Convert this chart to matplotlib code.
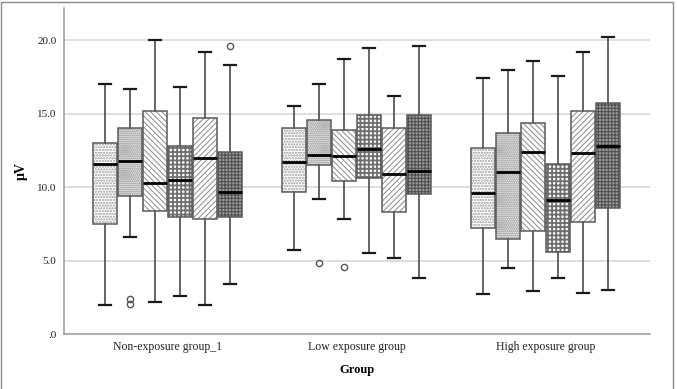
import matplotlib
matplotlib.use("Agg")
import matplotlib.pyplot as plt
from matplotlib.patches import PathPatch, Rectangle
from matplotlib.ticker import FuncFormatter
import numpy as np

groups = ["Non-exposure group_1", "Low exposure group", "High exposure group"]

# per group: six series (boxes), each with whislo, q1, med, q3, whishi
whislo = [[2.0, 6.6, 2.2, 2.6, 2.0, 3.4],
          [5.7, 9.2, 7.8, 5.5, 5.2, 3.8],
          [2.7, 4.5, 2.9, 3.8, 2.8, 3.0]]
q1 = [[7.5, 9.4, 8.4, 8.0, 7.8, 8.0],
      [9.7, 11.5, 10.4, 10.6, 8.3, 9.5],
      [7.2, 6.5, 7.0, 5.6, 7.6, 8.6]]
med = [[11.6, 11.8, 10.3, 10.5, 12.0, 9.7],
       [11.7, 12.2, 12.1, 12.6, 10.9, 11.1],
       [9.6, 11.0, 12.4, 9.1, 12.3, 12.8]]
q3 = [[13.0, 14.0, 15.2, 12.8, 14.7, 12.4],
      [14.0, 14.6, 13.9, 14.9, 14.0, 14.9],
      [12.7, 13.7, 14.4, 11.6, 15.2, 15.7]]
whishi = [[17.0, 16.7, 20.0, 16.8, 19.2, 18.3],
          [15.5, 17.0, 18.7, 19.5, 16.2, 19.6],
          [17.4, 18.0, 18.6, 17.6, 19.2, 20.2]]
fliers = [[[], [2.4, 2.05], [], [], [], [19.6]],
          [[], [4.85], [4.55], [], [], []],
          [[], [], [], [], [], []]]

yticks = [0, 5, 10, 15, 20]

# styles for the six series: (facecolor, hatch, hatchcolor, hatch linewidth)
styles = [("white", "oooooo", "#bdbdbd", 0.6),
          ("#eeeeee", "oooooooo", "#b4b4b4", 0.6),
          ("white", "\\\\\\\\\\\\", "#8a8a8a", 0.7),
          ("white", "++++", "#6e6e6e", 1.3),
          ("white", "//////", "#8a8a8a", 0.7),
          ("#9c9c9c", "+++++", "#4e4e4e", 0.8)]

plt.rcParams["font.family"] = ["Liberation Serif", "DejaVu Serif"]
plt.rcParams["hatch.linewidth"] = 0.7

fig = plt.figure(figsize=(6.77, 3.89), dpi=100)
ax = fig.add_axes([63.5 / 677, 1 - 334 / 389, (649.5 - 63.5) / 677, (334 - 8) / 389])

n = 6
w = 0.132
for g in range(len(groups)):
    stats = []
    pos = []
    for i in range(n):
        stats.append(dict(med=med[g][i], q1=q1[g][i], q3=q3[g][i],
                          whislo=whislo[g][i], whishi=whishi[g][i],
                          fliers=fliers[g][i]))
        pos.append(g + (i - (n - 1) / 2) * w)
    res = ax.bxp(stats, positions=pos, widths=w * 0.98, patch_artist=True,
                 capwidths=w * 0.48, showfliers=True,
                 boxprops=dict(linewidth=0, facecolor="white"),
                 medianprops=dict(color="black", linewidth=2.0),
                 whiskerprops=dict(color="#3a3a3a", linewidth=1.1),
                 capprops=dict(color="#1a1a1a", linewidth=1.6),
                 flierprops=dict(marker="o", markersize=4.5, markerfacecolor="none",
                                 markeredgecolor="#555555", markeredgewidth=1.0))
    for i, box in enumerate(res["boxes"]):
        fc, hatch, hc, hlw = styles[i]
        box.set_facecolor(fc)
        box.set_edgecolor(hc)
        box.set_hatch(hatch)
        if hasattr(box, "set_hatch_linewidth"):
            box.set_hatch_linewidth(hlw)
        box.set_linewidth(0)
        box.set_zorder(2)
        outline = PathPatch(box.get_path(), transform=ax.transData, fill=False,
                            edgecolor="#5a5a5a", linewidth=1.1, zorder=3)
        ax.add_patch(outline)
    for m in res["medians"]:
        m.set_zorder(4)

ax.set_xlim(-0.55, 2.55)
ax.set_ylim(0, 22.2)
ax.set_xticks(range(len(groups)))
ax.set_xticklabels(groups, fontsize=8.5)
ax.set_yticks(yticks)
ax.yaxis.set_major_formatter(FuncFormatter(lambda v, p: ("%.1f" % v).lstrip("0") if v < 1 else "%.1f" % v))
ax.tick_params(axis="both", length=0, labelsize=8, colors="#222222")
ax.tick_params(axis="x", pad=5, labelsize=8.5)
ax.tick_params(axis="y", pad=5)
ax.grid(axis="y", color="#d4d4d4", linewidth=1.1, zorder=0)
ax.set_axisbelow(True)
for s in ["top", "right"]:
    ax.spines[s].set_visible(False)
for s in ["left", "bottom"]:
    ax.spines[s].set_color("#9a9a9a")
    ax.spines[s].set_linewidth(1.1)

ax.set_xlabel("Group", fontsize=9, fontweight="bold", labelpad=8)
ax.set_ylabel("μV", fontsize=10, fontweight="bold", labelpad=7)

# figure frame
fig.patches.append(Rectangle((1 / 677, -0.05), 672 / 677, 1.05 - 2 / 389,
                             transform=fig.transFigure, fill=False,
                             edgecolor="#8a8a8a", linewidth=1.0))

fig.savefig("out.png", dpi=100)
